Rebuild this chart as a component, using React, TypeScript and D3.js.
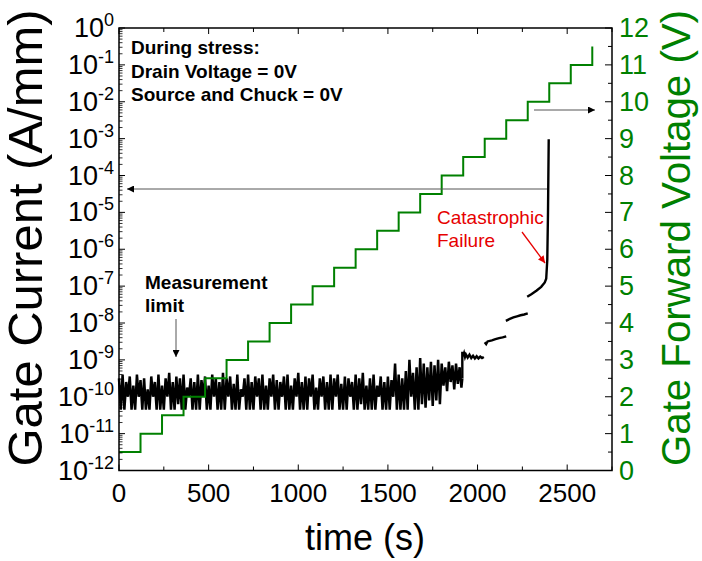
import React from 'react'
import * as d3 from 'd3'

const W = 702
const H = 561
const FONT = 'Liberation Sans, Arial, Helvetica, sans-serif'
const GREEN = '#008000'

// gate forward voltage staircase: step start time (s) and level (V)
const stepTimes = [0, 120, 240, 360, 480, 600, 720, 840, 960, 1080, 1200, 1320, 1440, 1560, 1680, 1800, 1920, 2040, 2160, 2280, 2400, 2520, 2640]
const stepVolts = [0.5, 1, 1.5, 2, 2.5, 3, 3.5, 4, 4.5, 5, 5.5, 6, 6.5, 7, 7.5, 8, 8.5, 9, 9.5, 10, 10.5, 11, 11.5]

// gate current near the measurement limit, log10(A/mm), one sample every 10 s from t = 0
const noiseStep = 10
const noiseExp = [
  -9.5, -10.35, -9.4, -10.35, -9.6, -10.0, -9.45, -10.35, -9.7, -10.35,
  -9.4, -10.0, -9.55, -10.35, -9.5, -10.35, -9.8, -10.35, -9.45, -10.0,
  -9.6, -10.35, -9.4, -10.35, -9.7, -10.35, -9.5, -10.0, -9.35, -10.35,
  -9.6, -10.35, -9.45, -10.2, -9.5, -10.35, -9.4, -10.35, -9.75, -10.0,
  -9.5, -10.35, -9.6, -10.35, -9.4, -10.35, -9.55, -10.0, -9.45, -10.35,
  -9.7, -10.35, -9.4, -10.0, -9.5, -10.35, -9.6, -10.35, -9.35, -10.35,
  -9.5, -10.0, -9.45, -10.35, -9.65, -10.35, -9.4, -10.35, -9.8, -10.0,
  -9.5, -10.35, -9.4, -10.35, -9.6, -10.35, -9.45, -10.0, -9.5, -10.35,
  -9.4, -10.35, -9.7, -10.35, -9.5, -10.0, -9.4, -10.35, -9.55, -10.35,
  -9.6, -10.0, -9.45, -10.35, -9.4, -10.35, -9.7, -10.35, -9.5, -10.0,
  -9.35, -10.35, -9.6, -10.35, -9.45, -10.35, -9.5, -10.0, -9.4, -10.35,
  -9.75, -10.35, -9.5, -10.0, -9.45, -10.35, -9.6, -10.35, -9.4, -10.35,
  -9.5, -10.0, -9.4, -10.35, -9.65, -10.35, -9.45, -10.35, -9.5, -10.0,
  -9.6, -10.35, -9.4, -10.35, -9.5, -10.2, -9.35, -10.35, -9.7, -10.35,
  -9.5, -10.35, -9.4, -10.35, -9.7, -10.0, -9.45, -10.35, -9.6, -10.35,
  -9.45, -10.35, -9.55, -10.0, -9.1, -10.35, -9.4, -10.35, -9.5, -10.35,
  -9.3, -10.35, -9.0, -10.0, -9.35, -10.35, -9.2, -10.35, -8.95, -10.2,
  -9.1, -10.3, -9.2, -10.1, -9.05, -10.25, -9.15, -10.1, -9.0, -10.2,
  -9.1, -9.7, -9.2, -9.85, -9.05, -9.6, -9.15, -9.8, -9.1, -9.65, -9.2, -9.75,
]

// later current segments after each voltage step: [t (s), log10(A/mm)]
const seg2 = [[1915, -8.78], [1920, -8.9], [1925, -8.82], [1930, -8.92], [1935, -8.85], [1945, -8.94], [1955, -8.86], [1965, -8.95], [1975, -8.89], [1985, -8.96], [1995, -8.9], [2005, -8.96], [2015, -8.91], [2025, -8.95], [2035, -8.92]]
const seg3 = [[2040, -8.52], [2048, -8.57], [2056, -8.5], [2080, -8.47], [2100, -8.44], [2120, -8.41], [2140, -8.39], [2160, -8.36]]
const seg4 = [[2158, -7.94], [2180, -7.89], [2200, -7.85], [2220, -7.82], [2240, -7.79], [2260, -7.77], [2280, -7.74]]
const seg5 = [[2277, -7.29], [2300, -7.22], [2330, -7.12], [2355, -7.02], [2375, -6.9], [2383, -6.8], [2389, -6.29], [2393, -5.0], [2397, -3.02]]

const xTicks = [0, 250, 500, 750, 1000, 1250, 1500, 1750, 2000, 2250, 2500, 2750]
const xLabels = [0, 500, 1000, 1500, 2000, 2500]
const decades = [-12, -11, -10, -9, -8, -7, -6, -5, -4, -3, -2, -1, 0]
const vTicks = [0, 0.5, 1, 1.5, 2, 2.5, 3, 3.5, 4, 4.5, 5, 5.5, 6, 6.5, 7, 7.5, 8, 8.5, 9, 9.5, 10, 10.5, 11, 11.5, 12]
const vLabels = [0, 1, 2, 3, 4, 5, 6, 7, 8, 9, 10, 11, 12]

const stressNote = ['During stress:', 'Drain Voltage = 0V', 'Source and Chuck = 0V']

export default function App() {
  const x = d3.scaleLinear().domain([0, 2750]).range([119, 612])
  const yL = d3.scaleLog().domain([1e-12, 1]).range([470.5, 28])
  const yR = d3.scaleLinear().domain([0, 12]).range([470.5, 28])
  const [x0, x1] = x.range()
  const [yb, yt] = yL.range()

  const lineI = d3.line<number[]>().x((d) => x(d[0])).y((d) => yL(Math.pow(10, d[1])))
  const lineV = d3.line<number[]>().x((d) => x(d[0])).y((d) => yR(d[1])).curve(d3.curveStepAfter)

  const noisePts = noiseExp.map((e, i) => [i * noiseStep, e])
  const steps = stepTimes.map((t, i) => [t, stepVolts[i]])

  const minors: number[] = []
  decades.slice(0, -1).forEach((d) => {
    for (let m = 2; m < 10; m++) minors.push(m * Math.pow(10, d))
  })

  return (
    <svg width={W} height={H} style={{ position: 'absolute', left: 0, top: 0, background: '#fff' }} fontFamily={FONT}>
      <defs>
        <marker id="ah" viewBox="0 0 10 10" refX="10" refY="5" markerWidth="9" markerHeight="7" markerUnits="userSpaceOnUse" orient="auto">
          <path d="M0,0 L10,5 L0,10 z" fill="#000" />
        </marker>
        <marker id="ahRed" viewBox="0 0 10 10" refX="10" refY="5" markerWidth="9" markerHeight="7" markerUnits="userSpaceOnUse" orient="auto">
          <path d="M0,0 L10,5 L0,10 z" fill="#e60000" />
        </marker>
      </defs>

      {/* current */}
      <path d={lineI(noisePts.concat([[1910, -9.75], [1915, -9.5]])) || ''} fill="none" stroke="#000" strokeWidth={2.5} strokeLinejoin="bevel" />
      <path d={lineI([[1915, -9.5]].concat(seg2)) || ''} fill="none" stroke="#000" strokeWidth={2.4} />
      {[seg3, seg4, seg5].map((s, i) => (
        <path key={i} d={lineI(s) || ''} fill="none" stroke="#000" strokeWidth={2.4} />
      ))}

      {/* voltage staircase */}
      <path d={lineV(steps) || ''} fill="none" stroke={GREEN} strokeWidth={2} />

      {/* frame + ticks */}
      <rect x={x0} y={yt} width={x1 - x0} height={yb - yt} fill="none" stroke="#000" strokeWidth={1.5} />
      {xTicks.map((t) => {
        const len = t % 500 === 0 ? 6 : 4
        return (
          <g key={t} stroke="#000" strokeWidth={1}>
            <line x1={x(t)} x2={x(t)} y1={yb} y2={yb - len} />
            <line x1={x(t)} x2={x(t)} y1={yt} y2={yt + len} />
          </g>
        )
      })}
      {decades.map((d) => (
        <line key={d} x1={x0} x2={x0 + 6} y1={yL(Math.pow(10, d))} y2={yL(Math.pow(10, d))} stroke="#000" />
      ))}
      {minors.map((v, i) => (
        <line key={i} x1={x0} x2={x0 + 3.5} y1={yL(v)} y2={yL(v)} stroke="#000" strokeWidth={0.8} />
      ))}
      {vTicks.map((v) => {
        const len = v % 1 === 0 ? 7 : 4
        return <line key={v} x1={x1} x2={x1 - len} y1={yR(v)} y2={yR(v)} stroke="#000" />
      })}

      {/* tick labels */}
      {xLabels.map((t) => (
        <text key={t} x={x(t)} y={502} fontSize={26} textAnchor="middle" fill="#000">{t}</text>
      ))}
      {decades.map((d) => (
        <text key={d} x={114} y={yL(Math.pow(10, d)) + 9} fontSize={27} textAnchor="end" fill="#000">
          <tspan>10</tspan>
          <tspan dy={-11} fontSize={18}>{d}</tspan>
        </text>
      ))}
      {vLabels.map((v) => (
        <text key={v} x={619} y={yR(v) + 9} fontSize={27} fill={GREEN}>{v}</text>
      ))}

      {/* axis titles */}
      <text x={365} y={550} fontSize={36} textAnchor="middle" fill="#000">time (s)</text>
      <text transform="translate(42,238) rotate(-90)" fontSize={48} textAnchor="middle" fill="#000" textLength={457} lengthAdjust="spacingAndGlyphs">
        Gate Current (A/mm)
      </text>
      <text transform="translate(690,238) rotate(-90)" fontSize={40} textAnchor="middle" fill={GREEN} textLength={456} lengthAdjust="spacingAndGlyphs">
        Gate Forward Voltage (V)
      </text>

      {/* annotations */}
      {stressNote.map((s, i) => (
        <text key={s} x={131} y={[54, 78, 101][i]} fontSize={19} fontWeight="bold" fill="#000">{s}</text>
      ))}
      <text x={145} y={289} fontSize={19} fontWeight="bold" fill="#000">Measurement</text>
      <text x={145} y={312} fontSize={19} fontWeight="bold" fill="#000">limit</text>
      <line x1={176} y1={319} x2={176} y2={357} stroke="#555" strokeWidth={1} markerEnd="url(#ah)" />

      <text x={437} y={224} fontSize={19} fill="#e60000">Catastrophic</text>
      <text x={437} y={247} fontSize={19} fill="#e60000">Failure</text>
      <line x1={522} y1={232} x2={545} y2={263} stroke="#e60000" strokeWidth={1.3} markerEnd="url(#ahRed)" />

      <line x1={547} y1={189} x2={127} y2={189} stroke="#555" strokeWidth={1} markerEnd="url(#ah)" />
      <line x1={534} y1={110} x2={595} y2={110} stroke="#555" strokeWidth={1} markerEnd="url(#ah)" />
    </svg>
  )
}
